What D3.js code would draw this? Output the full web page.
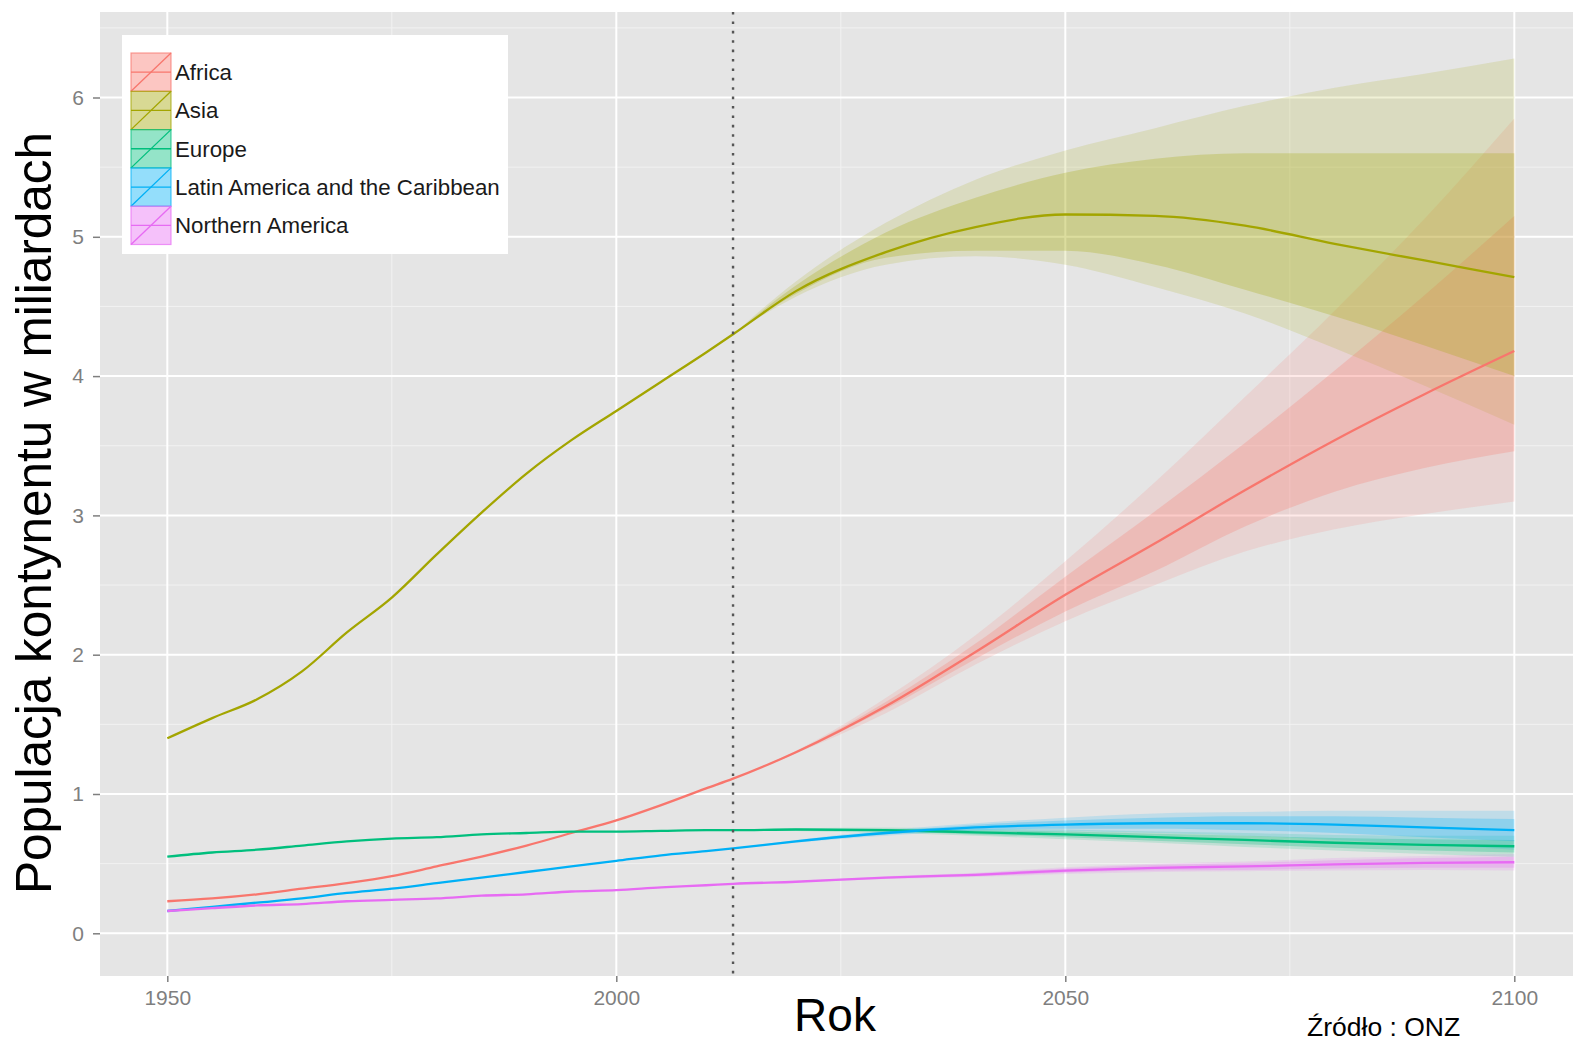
<!DOCTYPE html>
<html><head><meta charset="utf-8">
<script src="https://cdn.jsdelivr.net/npm/d3@7"></script>
<style>body{margin:0;background:#fff}svg{display:block}</style>
</head><body><svg id="c" width="1573" height="1042"></svg>
<script>
// ---------------- data ----------------
const seriesNames = ["Africa","Asia","Europe","Latin America and the Caribbean","Northern America"];
const seriesColors = ["#F8766D","#A3A500","#00BF7D","#00B0F6","#E76BF3"];

const years = [1950,1955,1960,1965,1970,1975,1980,1985,1990,1995,2000,2005,2010,2013,2020,2030,2040,2050,2060,2070,2080,2090,2100];
const africa = [0.23,0.25,0.28,0.32,0.36,0.41,0.48,0.55,0.63,0.72,0.81,0.92,1.04,1.11,1.30,1.63,2.02,2.43,2.80,3.18,3.54,3.87,4.18];
const asia   = [1.40,1.545,1.68,1.88,2.16,2.41,2.72,3.02,3.30,3.54,3.75,3.96,4.17,4.30,4.61,4.89,5.07,5.16,5.15,5.08,4.95,4.83,4.71];
const europe = [0.55,0.58,0.60,0.63,0.66,0.68,0.69,0.71,0.72,0.73,0.73,0.735,0.74,0.74,0.745,0.74,0.725,0.71,0.69,0.67,0.65,0.635,0.625];
const latam  = [0.16,0.19,0.22,0.25,0.29,0.32,0.36,0.40,0.44,0.48,0.52,0.56,0.59,0.61,0.66,0.72,0.76,0.78,0.79,0.79,0.78,0.76,0.74];
const namer  = [0.16,0.18,0.20,0.21,0.23,0.24,0.25,0.27,0.28,0.30,0.31,0.33,0.345,0.355,0.37,0.40,0.42,0.45,0.47,0.48,0.495,0.505,0.51];

const bandYears = [2013,2020,2030,2040,2050,2060,2070,2080,2090,2100];
const africaLo80 = [1.11,1.295,1.61,1.97,2.31,2.60,2.92,3.17,3.34,3.46];
const africaHi80 = [1.11,1.305,1.66,2.08,2.56,3.03,3.52,4.04,4.58,5.15];
const africaLo95 = [1.11,1.29,1.58,1.93,2.24,2.50,2.74,2.90,3.01,3.10];
const africaHi95 = [1.11,1.31,1.69,2.14,2.67,3.24,3.85,4.47,5.13,5.85];
const asiaLo80 = [4.30,4.59,4.85,4.90,4.90,4.80,4.62,4.43,4.22,4.00];
const asiaHi80 = [4.30,4.65,5.03,5.28,5.46,5.56,5.60,5.60,5.60,5.60];
const asiaLo95 = [4.30,4.57,4.80,4.86,4.80,4.64,4.45,4.20,3.93,3.65];
const asiaHi95 = [4.30,4.68,5.10,5.41,5.62,5.78,5.94,6.07,6.17,6.28];
const europeLo80 = [0.74,0.74,0.73,0.71,0.69,0.665,0.64,0.615,0.595,0.58];
const europeHi80 = [0.74,0.75,0.75,0.74,0.73,0.715,0.70,0.685,0.675,0.67];
const europeLo95 = [0.74,0.735,0.72,0.70,0.675,0.65,0.62,0.595,0.57,0.55];
const europeHi95 = [0.74,0.755,0.76,0.75,0.745,0.73,0.72,0.705,0.70,0.70];
const latamLo80 = [0.61,0.655,0.71,0.74,0.75,0.75,0.74,0.72,0.69,0.66];
const latamHi80 = [0.61,0.665,0.73,0.78,0.81,0.83,0.84,0.84,0.83,0.82];
const latamLo95 = [0.61,0.65,0.70,0.73,0.73,0.72,0.70,0.67,0.64,0.60];
const latamHi95 = [0.61,0.67,0.74,0.79,0.83,0.86,0.87,0.88,0.88,0.88];
const namerLo80 = [0.355,0.368,0.395,0.41,0.435,0.45,0.455,0.465,0.47,0.47];
const namerHi80 = [0.355,0.372,0.405,0.43,0.465,0.49,0.505,0.525,0.54,0.55];
const namerLo95 = [0.355,0.366,0.39,0.405,0.425,0.44,0.445,0.45,0.455,0.45];
const namerHi95 = [0.355,0.374,0.41,0.435,0.475,0.50,0.515,0.54,0.555,0.57];

const xTicks = [1950,2000,2050,2100];
const xMinorTicks = [1975,2025,2075];
const yTicks = [0,1,2,3,4,5,6];
const yMinorTicks = [0.5,1.5,2.5,3.5,4.5,5.5,6.5];
const currentYear = 2013;
const xTitle = "Rok";
const yTitle = "Populacja kontynentu w miliardach";
const sourceText = "Źródło : ONZ";

// ---------------- assembly ----------------
const lineValues = [africa, asia, europe, latam, namer];
const bands = [
  [africaLo80, africaHi80, africaLo95, africaHi95],
  [asiaLo80, asiaHi80, asiaLo95, asiaHi95],
  [europeLo80, europeHi80, europeLo95, europeHi95],
  [latamLo80, latamHi80, latamLo95, latamHi95],
  [namerLo80, namerHi80, namerLo95, namerHi95]
];

const svg = d3.select("#c");
const panel = {x0:100, x1:1573, y0:12, y1:976};
const x = d3.scaleLinear().domain([1950,2100]).range([167.3,1514.3]);
const y = d3.scaleLinear().domain([0,6]).range([933.3,97.5]);
const FONT = "'Liberation Sans', Arial, Helvetica, sans-serif";

svg.append("defs").append("clipPath").attr("id","clip")
  .append("rect").attr("x",panel.x0).attr("y",panel.y0)
  .attr("width",panel.x1-panel.x0).attr("height",panel.y1-panel.y0);

svg.append("rect").attr("x",panel.x0).attr("y",panel.y0)
  .attr("width",panel.x1-panel.x0).attr("height",panel.y1-panel.y0)
  .attr("fill","#e5e5e5");

const grid = svg.append("g").attr("clip-path","url(#clip)");
grid.selectAll(".vmin").data(xMinorTicks).join("line")
  .attr("x1",d=>x(d)).attr("x2",d=>x(d)).attr("y1",panel.y0).attr("y2",panel.y1)
  .attr("stroke","#f2f2f2").attr("stroke-width",1);
grid.selectAll(".hmin").data(yMinorTicks).join("line")
  .attr("y1",d=>y(d)).attr("y2",d=>y(d)).attr("x1",panel.x0).attr("x2",panel.x1)
  .attr("stroke","#f2f2f2").attr("stroke-width",1);
grid.selectAll(".vmaj").data(xTicks).join("line")
  .attr("x1",d=>x(d)).attr("x2",d=>x(d)).attr("y1",panel.y0).attr("y2",panel.y1)
  .attr("stroke","#ffffff").attr("stroke-width",2);
grid.selectAll(".hmaj").data(yTicks).join("line")
  .attr("y1",d=>y(d)).attr("y2",d=>y(d)).attr("x1",panel.x0).attr("x2",panel.x1)
  .attr("stroke","#ffffff").attr("stroke-width",2);

const plot = svg.append("g").attr("clip-path","url(#clip)");
const curve = d3.curveMonotoneX;

// outer bands
bands.forEach((b,i)=>{
  const data = bandYears.map((yr,k)=>({yr, lo:b[2][k], hi:b[3][k]}));
  plot.append("path").datum(data)
    .attr("d", d3.area().curve(curve).x(d=>x(d.yr)).y0(d=>y(d.lo)).y1(d=>y(d.hi)))
    .attr("fill", seriesColors[i]).attr("fill-opacity",0.16);
});
// inner bands
bands.forEach((b,i)=>{
  const data = bandYears.map((yr,k)=>({yr, lo:b[0][k], hi:b[1][k]}));
  plot.append("path").datum(data)
    .attr("d", d3.area().curve(curve).x(d=>x(d.yr)).y0(d=>y(d.lo)).y1(d=>y(d.hi)))
    .attr("fill", seriesColors[i]).attr("fill-opacity",0.26);
});
// lines
lineValues.forEach((vals,i)=>{
  const data = years.map((yr,k)=>({yr, v:vals[k]}));
  plot.append("path").datum(data)
    .attr("d", d3.line().curve(curve).x(d=>x(d.yr)).y(d=>y(d.v)))
    .attr("fill","none").attr("stroke",seriesColors[i]).attr("stroke-width",2.3);
});

// dotted vertical line
svg.append("line").attr("x1",x(currentYear)).attr("x2",x(currentYear))
  .attr("y1",panel.y0).attr("y2",panel.y1)
  .attr("stroke","#555").attr("stroke-width",2.4).attr("stroke-dasharray","2.6,6.8");

// axes
const xAxis = d3.axisBottom(x).tickValues(xTicks).tickFormat(d3.format("d")).tickSize(6).tickPadding(8);
const gx = svg.append("g").attr("transform",`translate(0,${panel.y1})`).call(xAxis);
gx.select(".domain").remove();
gx.selectAll("line").attr("stroke","#7f7f7f").attr("stroke-width",1.5);
gx.selectAll("text").attr("fill","#7f7f7f").style("font-family",FONT).style("font-size","21px");

const yAxis = d3.axisLeft(y).tickValues(yTicks).tickFormat(d3.format("d")).tickSize(7).tickPadding(9);
const gy = svg.append("g").attr("transform",`translate(${panel.x0},0)`).call(yAxis);
gy.select(".domain").remove();
gy.selectAll("line").attr("stroke","#7f7f7f").attr("stroke-width",1.5);
gy.selectAll("text").attr("fill","#7f7f7f").style("font-family",FONT).style("font-size","21px");

// titles
svg.append("text").attr("x",835).attr("y",1031).attr("text-anchor","middle")
  .style("font-family",FONT).style("font-size","46px").attr("fill","#000").text(xTitle);
svg.append("text").attr("transform","translate(51,513) rotate(-90)").attr("text-anchor","middle")
  .style("font-family",FONT).style("font-size","49.5px").attr("fill","#000").text(yTitle);
svg.append("text").attr("x",1307).attr("y",1036)
  .style("font-family",FONT).style("font-size","26.5px").attr("fill","#000").text(sourceText);

// legend
const lg = svg.append("g");
lg.append("rect").attr("x",122).attr("y",35).attr("width",386).attr("height",219).attr("fill","#fff");
const keyX = 131, keyTop = 53, keyW = 40, keyH = 38.3;
seriesNames.forEach((name,i)=>{
  const ky = keyTop + i*keyH;
  lg.append("rect").attr("x",keyX).attr("y",ky).attr("width",keyW).attr("height",keyH)
    .attr("fill",seriesColors[i]).attr("fill-opacity",0.42)
    .attr("stroke",seriesColors[i]).attr("stroke-opacity",0.7).attr("stroke-width",1.2);
  lg.append("line").attr("x1",keyX).attr("x2",keyX+keyW).attr("y1",ky+keyH/2).attr("y2",ky+keyH/2)
    .attr("stroke",seriesColors[i]).attr("stroke-width",1.3);
  lg.append("line").attr("x1",keyX).attr("x2",keyX+keyW).attr("y1",ky+keyH).attr("y2",ky)
    .attr("stroke",seriesColors[i]).attr("stroke-width",1.3);
  lg.append("text").attr("x",175).attr("y",ky+keyH/2).attr("dy","0.36em")
    .style("font-family",FONT).style("font-size","22.3px").attr("fill","#1a1a1a").text(name);
});
</script></body></html>
